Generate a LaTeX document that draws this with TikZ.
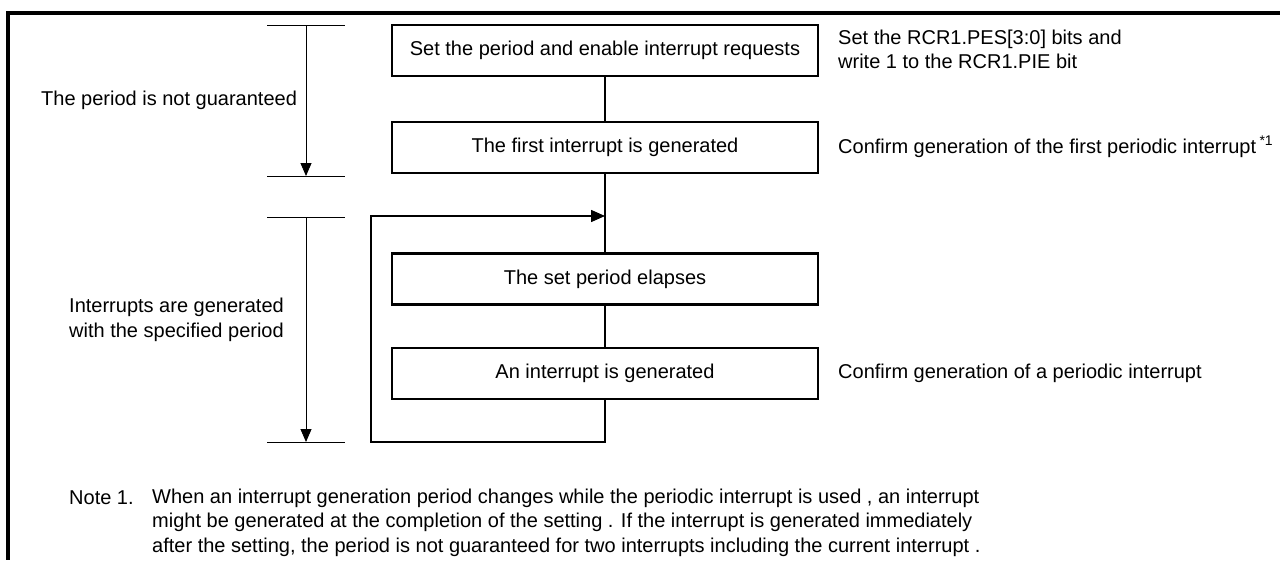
\documentclass[tikz,border=0pt]{standalone}
\usepackage{fontspec}
\setmainfont{Liberation Sans}
\usetikzlibrary{arrows.meta}
\begin{document}
\begin{tikzpicture}[x=1pt,y=-1pt,
  fnt/.style={font=\fontsize{20}{24.5}\selectfont},
  box/.style={fnt,draw,line width=2.5pt,minimum width=426pt,minimum height=51pt,inner sep=0pt},
  txt/.style={fnt,anchor=west,inner sep=0pt,align=left},
  conn/.style={line width=1.5pt},
  tip/.style={-{Triangle[length=14pt,width=12pt]}},
  btip/.style={-{Triangle[length=13pt,width=11pt]}},
  brk/.style={line width=0.9pt},
  frame/.style={line width=3.2pt}]
\useasboundingbox (0,0) rectangle (1280,560);
% frame
\coordinate (f1) at (1280,13);
\coordinate (f2) at (8,13);
\coordinate (f3) at (8,560);
\draw[frame] (f1) -- (f2) -- (f3);
% boxes
\node[box] (b1) at (605,50.5) {Set the period and enable interrupt requests};
\node[box] (b2) at (605,147.5) {The first interrupt is generated};
\node[box] (b3) at (605,279) {The set period elapses};
\node[box] (b4) at (605,373.5) {An interrupt is generated};
% connectors
\coordinate (la) at (605,216);
\coordinate (lb) at (605,442);
\coordinate (lc) at (371,442);
\coordinate (ld) at (371,216);
\draw[conn] (b1) -- (b2);
\draw[conn] (b2) -- (b3);
\draw[conn] (b3) -- (b4);
\draw[conn,tip] (b4.south) -- (lb) -- (lc) -- (ld) -- (la);
% brackets
\coordinate (a1l) at (267,25);  \coordinate (a1r) at (345,25);
\coordinate (a1t) at (306,25);  \coordinate (a1b) at (306,176);
\coordinate (a2l) at (267,176); \coordinate (a2r) at (345,176);
\draw[brk] (a1l) -- (a1r);
\draw[brk] (a2l) -- (a2r);
\draw[brk,btip] (a1t) -- (a1b);
\coordinate (c1l) at (267,217); \coordinate (c1r) at (345,217);
\coordinate (c1t) at (306,217); \coordinate (c1b) at (306,442);
\coordinate (c2l) at (267,442); \coordinate (c2r) at (345,442);
\draw[brk] (c1l) -- (c1r);
\draw[brk] (c2l) -- (c2r);
\draw[brk,btip] (c1t) -- (c1b);
% left labels
\node[txt] (l1) at (41,100) {The period is not guaranteed};
\node[txt] (l2) at (69,320) {Interrupts are generated\\with the specified period};
% right labels
\node[txt] (r1) at (838,49.5) {Set the RCR1.PES[3:0] bits and\\write 1 to the RCR1.PIE bit};
\node[txt] (r2) at (838,147) {Confirm generation of the first periodic interrupt\,\textsuperscript{*1}};
\node[txt] (r3) at (838,373) {Confirm generation of a periodic interrupt};
% note
\node[txt] (n0) at (69,498) {Note 1.};
\node[txt] (n1) at (152,498) {When an interrupt generation period changes while the periodic interrupt is used , an interrupt};
\node[txt] (n2) at (152,522.5) {might be generated at the completion of the setting . If the interrupt is generated immediately};
\node[txt] (n3) at (152,547) {after the setting, the period is not guaranteed for two interrupts including the current interrupt .};
\end{tikzpicture}
\end{document}
